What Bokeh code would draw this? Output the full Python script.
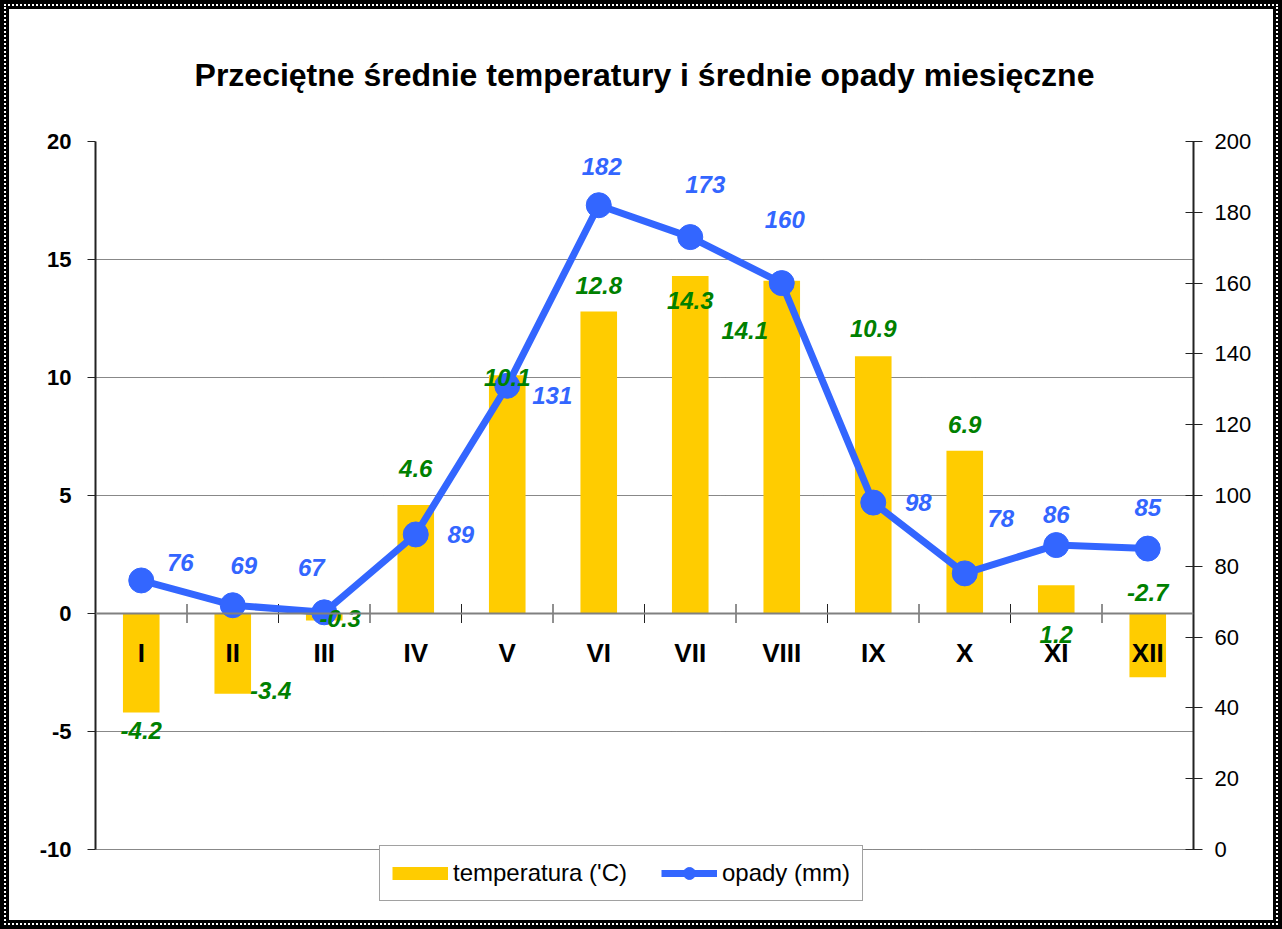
import math
from bokeh.plotting import figure
from bokeh.models import (Range1d, LinearAxis, FixedTicker, ColumnDataSource,
                          Legend, LegendItem, Span)
from bokeh.core.properties import value
from bokeh.embed import file_html
from bokeh.resources import INLINE

# ---- data ----
months = ["I", "II", "III", "IV", "V", "VI", "VII", "VIII", "IX", "X", "XI", "XII"]
temperature = [-4.2, -3.4, -0.3, 4.6, 10.1, 12.8, 14.3, 14.1, 10.9, 6.9, 1.2, -2.7]
precipitation = [76, 69, 67, 89, 131, 182, 173, 160, 98, 78, 86, 85]
left_ticks = [-10, -5, 0, 5, 10, 15, 20]
right_ticks = [0, 20, 40, 60, 80, 100, 120, 140, 160, 180, 200]

# label placement offsets (pixels, screen)
temp_dx = [0, 38, 16, 0, 0, 0, 0, -37, 0, 0, 0, 0]
temp_dy = [18, -3, -2, -36, 2, -26, 24, 50, -28, -26, 49, -85]
prec_dx = [39, 11, -13, 45, 45, 3, 15, 3, 45, 36, 0, 0]
prec_dy = [-18, -40, -45, 0, 10, -39, -53, -64, 0, -55, -31, -41]

FONT_NAME = "Liberation Sans"
FONT = value(FONT_NAME)
YELLOW = "#FFCC00"
BLUE = "#3366FF"
GREEN = "#008000"

# axis extents; the frame runs a little below -10 so the legend can sit there
L_MIN, L_MAX = -10, 20
R_MIN, R_MAX = 0, 200
L_EXT = -12.5   # extra room under the axes for the legend
R_EXT = R_MIN + (L_EXT - L_MIN) * (R_MAX - R_MIN) / (L_MAX - L_MIN)

xs = list(range(1, len(months) + 1))
boundaries = [x - 0.5 for x in xs] + [len(xs) + 0.5]
src = ColumnDataSource(dict(
    x=xs, t=temperature, p=precipitation, m=months,
    tl=[f"{v:.1f}" for v in temperature],
    pl=[str(v) for v in precipitation],
    tdx=temp_dx, tdy=temp_dy, pdx=prec_dx, pdy=prec_dy,
))

p = figure(width=1282, height=929,
           x_range=Range1d(0.5, len(months) + 0.5), y_range=Range1d(L_EXT, L_MAX),
           x_axis_location=None,
           output_backend="svg", toolbar_location=None,
           min_border_left=95, min_border_right=89,
           min_border_top=141, min_border_bottom=21)
p.outline_line_color = None
p.background_fill_color = "white"
p.border_fill_color = None
p.styles = {"box-shadow": "inset 0 0 0 9px black",
            "outline": "2px dotted white",
            "outline-offset": "-6px",
            "background-color": "white"}

p.extra_y_ranges = {"r": Range1d(R_EXT, R_MAX)}

# title
p.title.text = "Przeciętne średnie temperatury i średnie opady miesięczne"
p.title.align = "center"
p.title.text_font = FONT_NAME
p.title.text_font_style = "bold"
p.title.text_font_size = "32px"
p.title.text_color = "black"
p.title.standoff = 98

# grid
p.xgrid.visible = False
p.ygrid.ticker = FixedTicker(ticks=left_ticks)
p.ygrid.grid_line_color = "#111111"
p.ygrid.grid_line_dash = "1 1"
p.ygrid.grid_line_width = 1

# left axis
ya = p.yaxis[0]
ya.bounds = (L_MIN, L_MAX)
ya.ticker = FixedTicker(ticks=left_ticks)
ya.major_label_overrides = {t: str(t) for t in left_ticks}
ya.axis_line_color = "#222222"
ya.axis_line_width = 2
ya.major_tick_in = 0
ya.major_tick_out = 8
ya.minor_tick_line_color = None
ya.major_tick_line_color = "#222222"
ya.major_label_text_font = FONT_NAME
ya.major_label_text_font_style = "bold"
ya.major_label_text_font_size = "22px"
ya.major_label_text_color = "black"
ya.major_label_standoff = 16

# right axis
ra = LinearAxis(y_range_name="r", ticker=FixedTicker(ticks=right_ticks),
                bounds=(R_MIN, R_MAX))
ra.axis_line_color = "#222222"
ra.axis_line_width = 2
ra.major_tick_in = 8
ra.major_tick_out = 9
ra.minor_tick_line_color = None
ra.major_tick_line_color = "#222222"
ra.major_label_text_font = FONT_NAME
ra.major_label_text_font_size = "22px"
ra.major_label_text_color = "black"
ra.major_label_standoff = 12
p.add_layout(ra, "right")

# bars
bars = p.vbar(x="x", top="t", bottom=0, width=0.4, fill_color=YELLOW,
              line_color=None, source=src)

# category axis at zero: line + tick marks between months + month names
p.add_layout(Span(location=0, dimension="width", line_color="#808080", line_width=2))
p.scatter(x=boundaries, y=[0] * len(boundaries), marker="dash", angle=math.pi / 2,
          size=19, line_color="#222222", line_width=1)
p.text(x="x", y=0, text="m", y_offset=39, source=src,
       text_font=FONT, text_font_style="bold", text_font_size="26px",
       text_color="black", text_align="center", text_baseline="middle")

# line
ln = p.line(x="x", y="p", line_width=7, line_color=BLUE, y_range_name="r", source=src)
mk = p.scatter(x="x", y="p", size=25, marker="circle", fill_color=BLUE,
               line_color=BLUE, y_range_name="r", source=src)

# data labels
p.text(x="x", y="t", text="tl", x_offset="tdx", y_offset="tdy", source=src,
       text_font=FONT, text_font_style="bold italic", text_font_size="24px",
       text_color=GREEN, text_align="center", text_baseline="middle")
p.text(x="x", y="p", text="pl", x_offset="pdx", y_offset="pdy", source=src,
       y_range_name="r",
       text_font=FONT, text_font_style="bold italic", text_font_size="24px",
       text_color=BLUE, text_align="center", text_baseline="middle")

# legend-only swatch for the bars (a single-point line draws nothing in the plot)
swatch = p.line(x=xs[:1], y=temperature[:1], line_width=13, line_color=YELLOW)

legend = Legend(items=[LegendItem(label="temperatura ('C)", renderers=[swatch]),
                       LegendItem(label="opady (mm)", renderers=[ln, mk])],
                orientation="horizontal", location=(284, 7))
legend.label_text_font = FONT_NAME
legend.label_text_font_size = "24px"
legend.label_text_color = "black"
legend.glyph_width = 56
legend.glyph_height = 30
legend.label_standoff = 5
legend.spacing = 34
legend.padding = 12
legend.margin = 0
legend.border_line_color = "#444444"
legend.border_line_width = 1
legend.background_fill_color = "white"
legend.background_fill_alpha = 1
p.add_layout(legend)

open("out.html", "w").write(file_html(p, INLINE))
